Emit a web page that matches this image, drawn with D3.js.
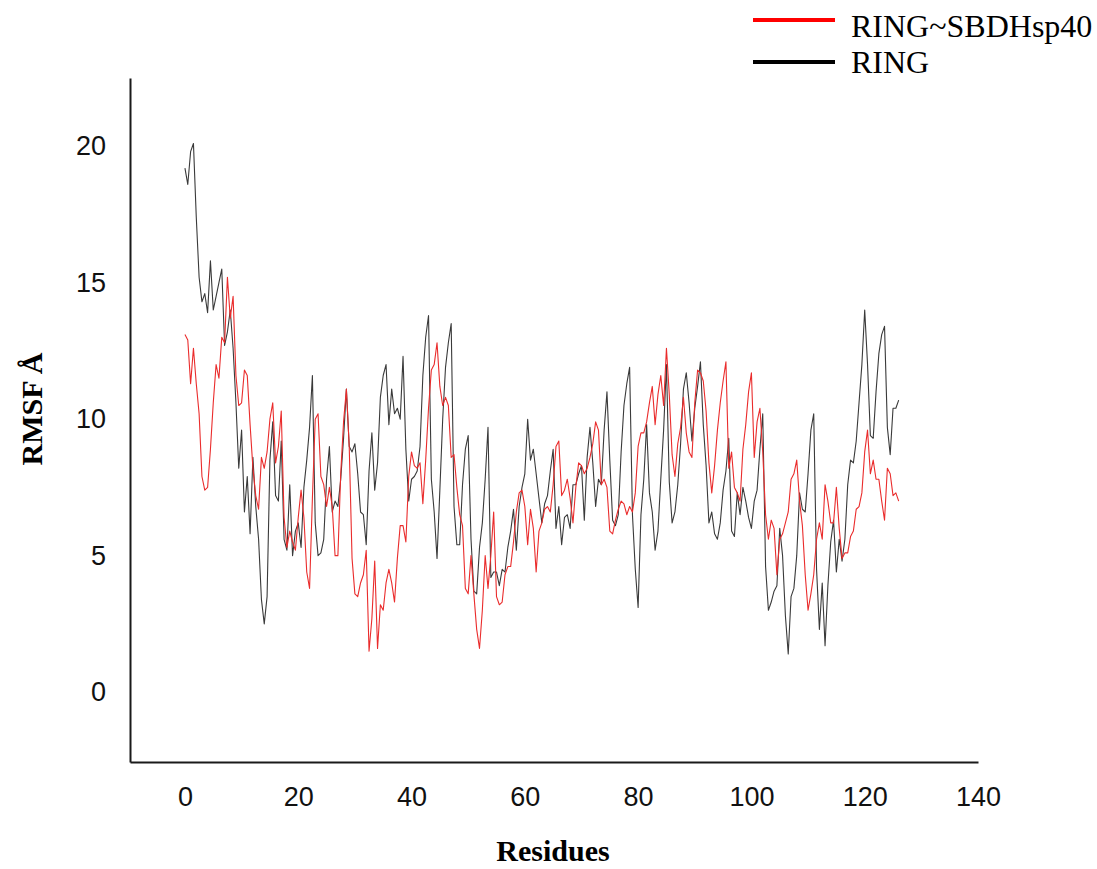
<!DOCTYPE html>
<html>
<head>
<meta charset="utf-8">
<script src="https://d3js.org/d3.v7.min.js"></script>
<style>
    body { margin: 0; background: #fff; }
</style>
</head>
<body>
<svg id="drawing_region"></svg>
<script>
// RMSF per residue, sampled every half residue (index * 0.5 = residue)
const residue_step = 0.5;

const rmsf_ring = [
    19.2, 18.6, 19.8, 20.1, 17.4, 15.2, 14.3, 14.6, 13.9, 15.8,
    14.0, 14.5, 15.0, 15.5, 12.7, 13.2, 14.0, 12.6, 10.6, 8.2,
    9.6, 6.6, 7.9, 5.8, 8.6, 6.8, 5.6, 3.4, 2.5, 3.5,
    8.5, 9.9, 7.2, 7.0, 9.2, 5.6, 5.2, 7.6, 5.0, 5.9,
    6.2, 5.3, 7.5, 8.5, 9.7, 11.6, 6.2, 5.0, 5.1, 5.6,
    7.8, 9.0, 6.6, 7.0, 6.8, 7.8, 9.3, 11.1, 9.0, 8.8,
    9.1, 8.0, 6.6, 6.5, 5.4, 8.1, 9.5, 7.4, 8.4, 10.8,
    11.6, 12.0, 9.8, 11.1, 10.2, 10.4, 10.0, 12.3, 8.9, 7.0,
    7.8, 7.9, 8.1, 9.0, 11.6, 13.0, 13.8, 7.8, 6.6, 4.9,
    7.4, 10.0, 11.9, 12.8, 13.5, 6.8, 5.4, 5.4, 7.6, 8.9,
    9.4, 5.6, 3.7, 3.6, 5.3, 6.2, 7.8, 9.7, 4.2, 4.4,
    4.4, 3.9, 4.5, 4.4, 5.3, 5.9, 6.7, 5.2, 6.8, 7.5,
    8.0, 10.0, 8.5, 8.9, 8.0, 7.1, 6.2, 6.9, 7.2, 8.1,
    8.9, 6.0, 6.8, 5.4, 6.4, 6.5, 6.0, 7.6, 7.6, 8.0,
    8.3, 6.3, 8.6, 9.7, 8.4, 6.8, 7.8, 7.6, 9.6, 11.0,
    8.5, 6.3, 6.1, 6.5, 8.8, 10.5, 11.3, 11.9, 6.5, 4.5,
    3.1, 6.5, 7.8, 9.8, 7.3, 6.6, 5.2, 5.9, 7.8, 9.6,
    12.0, 7.7, 6.2, 6.6, 7.6, 9.1, 11.1, 11.7, 10.6, 9.2,
    10.4, 11.2, 12.1, 9.8, 8.3, 6.2, 6.6, 5.8, 5.6, 6.2,
    7.4, 8.1, 9.3, 5.9, 5.7, 7.3, 6.5, 7.5, 7.0, 6.4,
    6.0, 7.0, 7.4, 8.9, 10.2, 4.6, 3.0, 3.3, 3.7, 3.9,
    6.0, 5.0, 2.8, 1.4, 3.5, 3.8, 5.0, 7.3, 6.7, 6.6,
    8.0, 9.6, 10.2, 4.5, 2.3, 4.0, 1.7, 3.9, 5.5, 6.3,
    4.4, 5.6, 4.8, 5.6, 7.6, 8.5, 8.4, 9.2, 10.6, 12.0,
    14.0, 12.0, 9.4, 9.3, 11.0, 12.4, 13.1, 13.4, 9.7, 8.7,
    10.4, 10.4, 10.7
];

const rmsf_ring_sbdh = [
    13.1, 12.9, 11.3, 12.6, 11.3, 10.2, 7.9, 7.4, 7.5, 8.9,
    10.6, 12.0, 11.5, 13.0, 12.8, 15.2, 13.7, 14.5, 11.6, 10.5,
    10.6, 11.8, 11.6, 9.8, 8.2, 7.2, 6.7, 8.6, 8.2, 8.8,
    10.0, 10.6, 8.4, 9.0, 10.3, 6.4, 5.3, 5.9, 5.5, 5.2,
    6.4, 7.4, 6.4, 4.4, 3.8, 7.1, 10.0, 10.2, 7.9, 7.6,
    6.8, 7.5, 6.8, 5.0, 5.0, 8.0, 9.9, 11.1, 9.0, 4.9,
    3.6, 3.5, 4.0, 4.3, 5.2, 1.5, 2.7, 4.8, 1.6, 3.2,
    3.0, 4.0, 4.5, 4.0, 3.3, 4.9, 6.1, 6.1, 5.5, 7.9,
    8.8, 8.3, 8.2, 8.4, 6.9, 8.5, 10.4, 11.8, 12.0, 12.8,
    11.2, 10.5, 10.8, 10.5, 8.6, 8.7, 7.5, 6.5, 6.1, 3.8,
    3.6, 5.0, 3.6, 2.3, 1.6, 3.0, 5.0, 3.8, 5.0, 6.6,
    3.5, 3.2, 3.3, 4.3, 4.6, 4.6, 5.5, 6.6, 7.3, 7.4,
    6.8, 5.4, 6.7, 6.0, 4.4, 5.9, 6.2, 6.7, 6.8, 6.6,
    7.6, 9.0, 9.2, 7.2, 7.4, 7.8, 7.1, 6.2, 7.5, 8.4,
    8.3, 8.0, 8.2, 8.6, 9.1, 9.9, 9.6, 7.6, 7.8, 7.5,
    5.9, 5.8, 6.3, 6.7, 7.0, 6.9, 6.5, 6.8, 6.6, 7.3,
    9.0, 9.5, 9.5, 9.9, 10.6, 11.2, 9.8, 10.9, 11.6, 10.5,
    12.6, 10.9, 8.7, 7.9, 9.1, 9.7, 10.8, 9.5, 8.8, 8.6,
    10.6, 11.8, 11.7, 11.4, 10.3, 8.4, 7.3, 8.3, 9.6, 10.6,
    11.4, 12.1, 8.2, 8.8, 7.5, 7.3, 7.0, 8.9, 9.8, 11.0,
    11.7, 8.6, 9.9, 10.4, 8.8, 6.5, 5.6, 6.3, 6.0, 4.3,
    5.6, 5.8, 6.2, 6.6, 7.8, 8.0, 8.5, 7.0, 6.1, 4.3,
    3.0, 3.6, 4.3, 5.6, 6.2, 5.6, 7.6, 7.0, 6.2, 6.2,
    7.5, 6.0, 4.9, 5.1, 5.1, 5.7, 5.9, 6.7, 6.8, 7.3,
    8.8, 9.6, 8.0, 8.5, 7.8, 7.8, 7.0, 6.3, 8.2, 8.0,
    7.2, 7.3, 7.0
];

const series_names = ["RING~SBDHsp40", "RING"];
const x_ticks = [0, 20, 40, 60, 80, 100, 120, 140];
const y_ticks = [0, 5, 10, 15, 20];

var config = {
    parent: '#drawing_region',
    width: 1097,
    height: 869,
    margin: {top: 78, right: 119, bottom: 107, left: 130}
};

class LineChart {

    constructor( config, series ) {
        this.config = config;
        this.series = series;
        this.init();
    }

    init() {
        let self = this;

        self.svg = d3.select( self.config.parent )
            .attr('width', self.config.width)
            .attr('height', self.config.height);

        self.chart = self.svg.append('g')
            .attr('transform', `translate(${self.config.margin.left}, ${self.config.margin.top})`);

        self.inner_width = self.config.width - self.config.margin.left - self.config.margin.right;
        self.inner_height = self.config.height - self.config.margin.top - self.config.margin.bottom;

        self.xscale = d3.scaleLinear()
            .domain( [-9.7, 140] )
            .range( [0, self.inner_width] );

        self.yscale = d3.scaleLinear()
            .domain( [-2.56, 22.5] )
            .range( [self.inner_height, 0] );

        self.xaxis = d3.axisBottom( self.xscale )
            .tickValues( x_ticks )
            .tickSize( 0 )
            .tickPadding( 25 );

        self.yaxis = d3.axisLeft( self.yscale )
            .tickValues( y_ticks )
            .tickSize( 0 )
            .tickPadding( 24 );

        self.xaxis_group = self.chart.append('g')
            .attr('transform', `translate(0, ${self.inner_height})`);

        self.yaxis_group = self.chart.append('g');

        self.svg.append('text')
            .attr('x', 553)
            .attr('y', 861)
            .attr('text-anchor', 'middle')
            .style('font-family', '"Liberation Serif", "Times New Roman", serif')
            .style('font-weight', 'bold')
            .style('font-size', '30px')
            .text('Residues');

        self.svg.append('text')
            .attr('transform', 'rotate(-90)')
            .attr('x', -409)
            .attr('y', 42)
            .attr('text-anchor', 'middle')
            .style('font-family', '"Liberation Serif", "Times New Roman", serif')
            .style('font-weight', 'bold')
            .style('font-size', '30px')
            .text('RMSF Å');
    }

    render() {
        let self = this;

        let line = d3.line()
            .x( (d, i) => self.xscale( i * residue_step ) )
            .y( d => self.yscale( d ) );

        self.chart.selectAll('.series')
            .data( self.series )
            .join('path')
            .attr('class', 'series')
            .attr('d', d => line( d.values ))
            .attr('fill', 'none')
            .attr('stroke', d => d.color)
            .attr('stroke-width', 1.1)
            .attr('stroke-linejoin', 'round');

        self.xaxis_group.call( self.xaxis );
        self.yaxis_group.call( self.yaxis );

        self.chart.selectAll('.domain')
            .attr('stroke', '#1a1a1a')
            .attr('stroke-width', 2);

        self.chart.selectAll('.tick text')
            .style('font-family', '"Liberation Sans", Arial, sans-serif')
            .style('font-size', '27px')
            .attr('fill', '#111');

        // legend (top right)
        let legend = self.svg.selectAll('.legend')
            .data( self.series.slice().reverse() )
            .join('g')
            .attr('class', 'legend')
            .attr('transform', (d, i) => `translate(753, ${[20, 62][i]})`);

        legend.append('line')
            .attr('x1', 0).attr('x2', 82)
            .attr('y1', 0).attr('y2', 0)
            .attr('stroke', d => d.legend_color)
            .attr('stroke-width', 4);

        legend.append('text')
            .attr('x', 98)
            .attr('y', (d, i) => [17, 11][i])
            .style('font-family', '"Liberation Serif", "Times New Roman", serif')
            .style('font-size', '32px')
            .text( d => d.name );
    }
}

let line_chart = new LineChart( config, [
    { name: series_names[1], values: rmsf_ring, color: '#3a3a3a', legend_color: '#000' },
    { name: series_names[0], values: rmsf_ring_sbdh, color: '#ea2c2c', legend_color: '#ff0000' }
]);
line_chart.render();
</script>
</body>
</html>
